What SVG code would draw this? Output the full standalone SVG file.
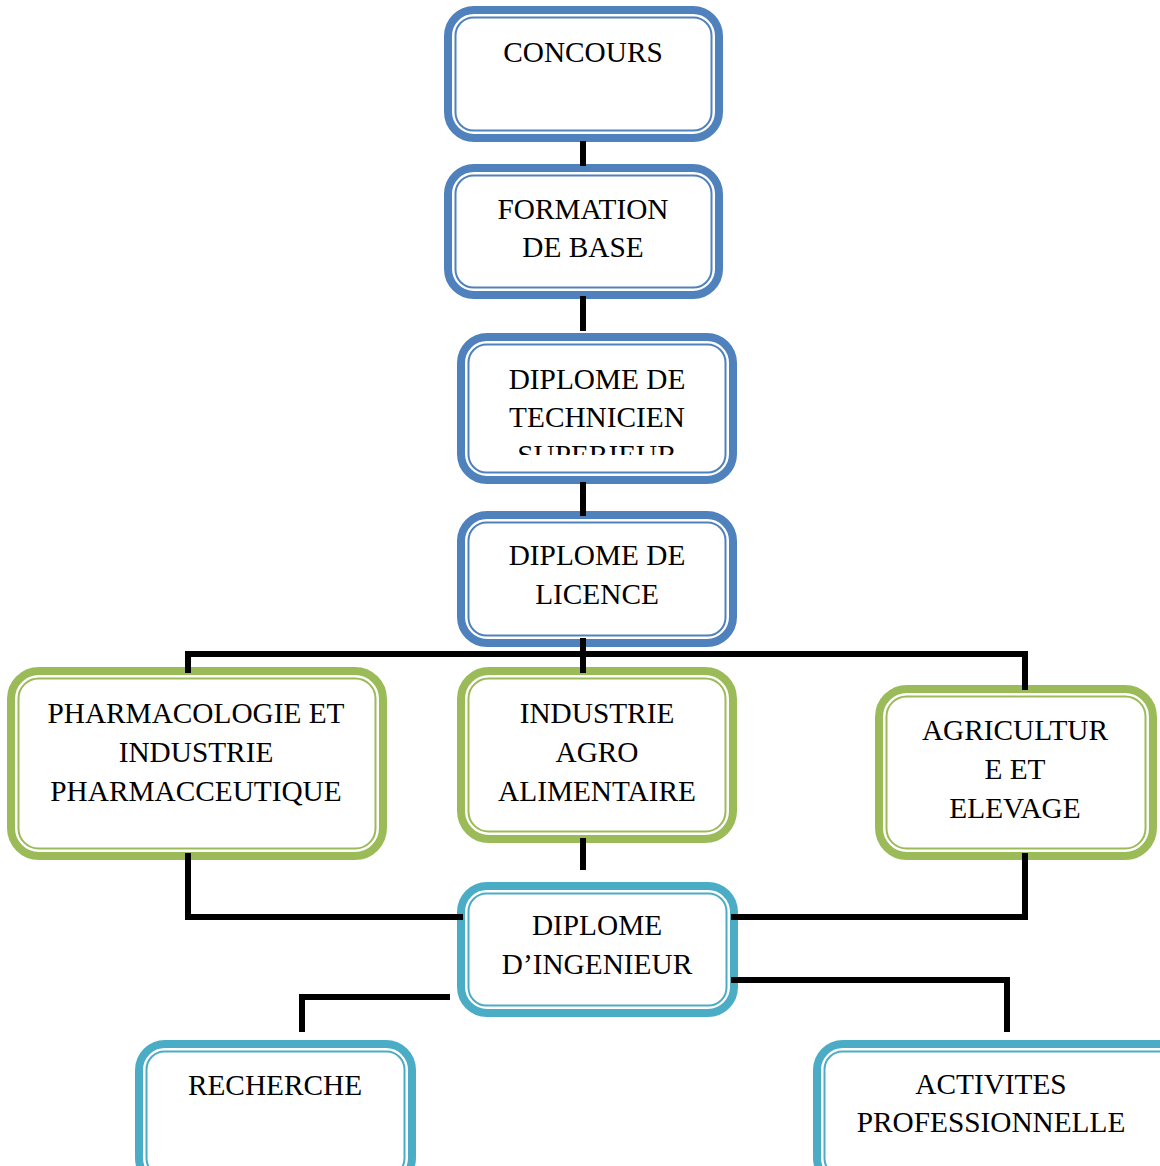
<svg xmlns="http://www.w3.org/2000/svg" width="1160" height="1166" viewBox="0 0 1160 1166">
<style>
.o{fill:#fff;stroke-width:8}
.i{fill:none;stroke-width:2}
.b{stroke:#4F81BD}
.g{stroke:#9BBB59}
.t{stroke:#4BACC6}
text{font-family:"Liberation Serif","Times New Roman",serif;font-size:29.3px;fill:#000;text-anchor:middle}
.c{fill:none;stroke:#000;stroke-width:6;stroke-linecap:butt;stroke-linejoin:miter}
</style>
<defs>
<clipPath id="clipDT"><rect x="457" y="333" width="280" height="122"/></clipPath>
</defs>
<rect width="1160" height="1166" fill="#fff"/>

<g id="n-concours">
<rect class="o b" x="448" y="10" width="271" height="128" rx="26"/>
<rect class="i b" x="455.5" y="17.5" width="256" height="113" rx="18"/>
<text x="583" y="62">CONCOURS</text>
</g>
<g id="n-formation">
<rect class="o b" x="448" y="168" width="271" height="127" rx="26"/>
<rect class="i b" x="455.5" y="175.5" width="256" height="112" rx="18"/>
<text x="583" y="219">FORMATION</text>
<text x="583" y="257">DE BASE</text>
</g>
<g id="n-technicien">
<rect class="o b" x="461" y="337" width="272" height="143" rx="26"/>
<rect class="i b" x="468.5" y="344.5" width="257" height="128" rx="18"/>
<g clip-path="url(#clipDT)">
<text x="597" y="389">DIPLOME DE</text>
<text x="597" y="427">TECHNICIEN</text>
<text x="597" y="465">SUPERIEUR</text>
</g>
</g>
<g id="n-licence">
<rect class="o b" x="461" y="515" width="272" height="128" rx="26"/>
<rect class="i b" x="468.5" y="522.5" width="257" height="113" rx="18"/>
<text x="597" y="565">DIPLOME DE</text>
<text x="597" y="604">LICENCE</text>
</g>
<g id="n-pharma">
<rect class="o g" x="11" y="671" width="372" height="185" rx="28"/>
<rect class="i g" x="18.5" y="678.5" width="357" height="170" rx="20"/>
<text x="196" y="723">PHARMACOLOGIE ET</text>
<text x="196" y="762">INDUSTRIE</text>
<text x="196" y="801">PHARMACCEUTIQUE</text>
</g>
<g id="n-agro">
<rect class="o g" x="461" y="671" width="272" height="168" rx="28"/>
<rect class="i g" x="468.5" y="678.5" width="257" height="153" rx="20"/>
<text x="597" y="723">INDUSTRIE</text>
<text x="597" y="762">AGRO</text>
<text x="597" y="801">ALIMENTAIRE</text>
</g>
<g id="n-agri">
<rect class="o g" x="879" y="689" width="274" height="167" rx="28"/>
<rect class="i g" x="886.5" y="696.5" width="259" height="152" rx="20"/>
<text x="1015" y="740">AGRICULTUR</text>
<text x="1015" y="779">E ET</text>
<text x="1015" y="818">ELEVAGE</text>
</g>
<g id="n-ingenieur">
<rect class="o t" x="461" y="886" width="273" height="127" rx="26"/>
<rect class="i t" x="468.5" y="893.5" width="258" height="112" rx="18"/>
<text x="597" y="935">DIPLOME</text>
<text x="597" y="974">D’INGENIEUR</text>
</g>
<g id="n-recherche">
<rect class="o t" x="139" y="1044" width="273" height="140" rx="26"/>
<rect class="i t" x="146.5" y="1051.5" width="258" height="125" rx="18"/>
<text x="275" y="1095">RECHERCHE</text>
</g>
<g id="n-activites">
<rect class="o t" x="817" y="1044" width="370" height="140" rx="26"/>
<rect class="i t" x="824.5" y="1051.5" width="355" height="125" rx="18"/>
<text x="991" y="1094">ACTIVITES</text>
<text x="991" y="1132">PROFESSIONNELLE</text>
</g>

<g id="connectors">
<path class="c" d="M583,141 V166"/>
<path class="c" d="M583,296 V331"/>
<path class="c" d="M583,482 V516"/>
<path class="c" d="M583,638 V673"/>
<path class="c" d="M188,673 V654 H1025 V690"/>
<path class="c" d="M583,838 V870"/>
<path class="c" d="M188,853 V917 H463"/>
<path class="c" d="M1025,853 V917 H731"/>
<path class="c" d="M731,980 H1007 V1032"/>
<path class="c" d="M450,997 H302 V1032"/>
</g>
</svg>
